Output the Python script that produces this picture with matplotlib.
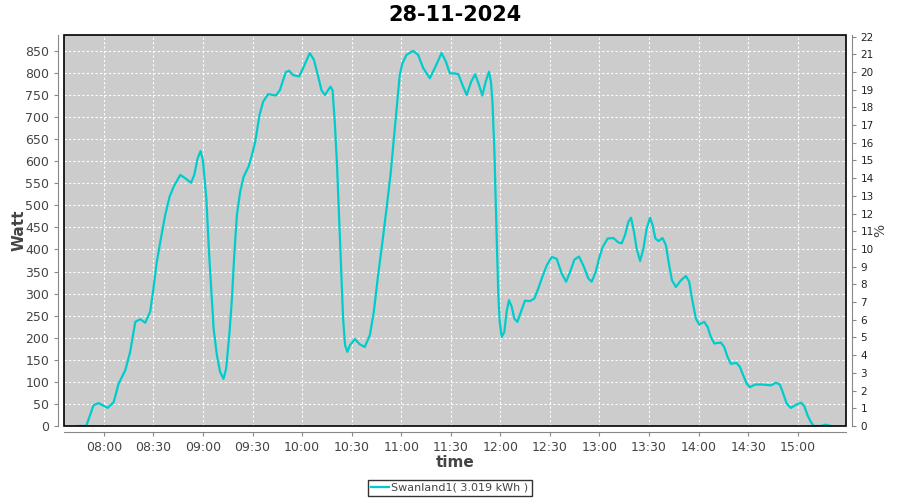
import matplotlib
matplotlib.use("Agg")
import matplotlib.pyplot as plt
import matplotlib.dates as mdates
from matplotlib.patches import Rectangle
import pandas as pd

title = "28-11-2024"
series_name = "Swanland1( 3.019 kWh )"

times = [
    "07:44:18", "07:49:18", "07:53:42", "07:56:48", "08:02:12", "08:05:54", "08:08:54", "08:12:54",
    "08:15:54", "08:19:00", "08:22:00", "08:25:00", "08:28:00", "08:30:00", "08:32:00", "08:34:30",
    "08:37:06", "08:39:48", "08:42:12", "08:46:12", "08:49:48", "08:52:42", "08:54:42", "08:56:42",
    "08:58:30", "08:59:54", "09:02:00", "09:03:36", "09:04:48", "09:06:24", "09:08:24", "09:10:24",
    "09:12:24", "09:14:00", "09:15:54", "09:17:30", "09:18:54", "09:20:30", "09:22:30", "09:24:36",
    "09:27:36", "09:29:36", "09:31:36", "09:34:12", "09:36:24", "09:39:24", "09:44:06", "09:46:30",
    "09:50:06", "09:52:06", "09:54:30", "09:58:12", "10:00:36", "10:04:36", "10:07:06", "10:09:42",
    "10:11:42", "10:13:42", "10:15:42", "10:17:12", "10:18:24", "10:19:48", "10:21:12", "10:22:24",
    "10:23:48", "10:24:48", "10:26:00", "10:27:24", "10:28:54", "10:31:54", "10:34:54", "10:37:54",
    "10:41:00", "10:43:24", "10:46:00", "10:48:36", "10:51:06", "10:53:30", "10:55:42", "10:57:30",
    "10:59:06", "11:00:42", "11:03:12", "11:07:12", "11:10:12", "11:13:18", "11:17:18", "11:20:18",
    "11:24:24", "11:27:00", "11:29:24", "11:32:24", "11:34:36", "11:36:36", "11:39:36", "11:42:18",
    "11:44:42", "11:46:42", "11:49:06", "11:51:06", "11:53:06", "11:54:18", "11:55:12", "11:56:24",
    "11:57:12", "11:58:00", "11:58:48", "11:59:36", "12:00:48", "12:02:24", "12:03:48", "12:05:12",
    "12:06:54", "12:08:30", "12:10:18", "12:12:30", "12:14:54", "12:18:00", "12:20:36", "12:23:00",
    "12:25:24", "12:28:06", "12:31:06", "12:34:06", "12:37:06", "12:39:48", "12:42:12", "12:44:48",
    "12:47:36", "12:50:12", "12:53:18", "12:55:18", "12:57:42", "12:59:42", "13:02:00", "13:05:00",
    "13:08:24", "13:11:24", "13:13:30", "13:15:30", "13:17:30", "13:19:06", "13:20:54", "13:22:30",
    "13:24:36", "13:26:36", "13:28:36", "13:30:36", "13:32:12", "13:33:48", "13:35:48", "13:38:12",
    "13:40:12", "13:42:12", "13:43:54", "13:46:18", "13:49:18", "13:52:18", "13:54:18", "13:56:24",
    "13:58:24", "14:00:24", "14:03:24", "14:05:24", "14:07:24", "14:09:30", "14:13:30", "14:15:30",
    "14:17:30", "14:19:30", "14:23:00", "14:25:00", "14:27:00", "14:29:06", "14:31:06", "14:34:18",
    "14:38:42", "14:43:48", "14:46:48", "14:49:12", "14:51:18", "14:53:18", "14:55:54", "14:58:54",
    "15:02:00", "15:04:00", "15:06:00", "15:08:00", "15:09:42", "15:14:06", "15:16:48", "15:20:18",
]
watts = [
    0, 0, 47, 52, 41, 54, 96, 126,
    168, 236, 242, 234, 259, 312, 372, 425,
    478, 520, 542, 569, 560, 551, 569, 606,
    623, 603, 516, 395, 319, 221, 160, 122,
    107, 130, 206, 289, 387, 478, 531, 565,
    588, 614, 644, 705, 735, 752, 749, 761,
    802, 805, 795, 792, 811, 845, 830, 792,
    761, 750, 761, 769, 761, 686, 584, 470,
    334, 243, 183, 168, 183, 197, 185, 179,
    206, 259, 342, 417, 493, 569, 659, 735,
    796, 822, 841, 850, 841, 811, 788, 811,
    845, 826, 799, 799, 797, 777, 750, 780,
    797, 777, 749, 780, 803, 780, 735, 622,
    508, 395, 296, 236, 202, 213, 259, 285,
    270, 243, 236, 259, 284, 283, 289, 312,
    338, 364, 383, 379, 346, 327, 349, 377,
    384, 364, 334, 327, 349, 379, 406, 425,
    426, 416, 414, 433, 463, 472, 440, 402,
    374, 402, 448, 472, 455, 425, 419, 426,
    410, 364, 330, 315, 330, 340, 327, 281,
    243, 230, 236, 225, 202, 187, 189, 179,
    157, 141, 143, 134, 115, 96, 88, 94,
    94, 92, 98, 94, 73, 51, 41, 48,
    53, 45, 24, 9, 0, 0, 3, 0,
]
watt_ticks = list(range(0, 851, 50))
pct_ticks = list(range(0, 23))

day = "2024-11-28 "
t = pd.to_datetime([day + s for s in times])

fig = plt.figure(figsize=(9, 5), dpi=100)
ax = fig.add_axes([64 / 900, 74 / 500, 782 / 900, 391 / 500])
ax.set_facecolor("#cccccc")

ax.plot(t, watts, color="#00cccc", linewidth=1.6, label=series_name)

ax.set_xlim(pd.Timestamp(day + "07:35:50"), pd.Timestamp(day + "15:29:15"))
ax.set_ylim(0, 886)
ax.set_yticks(watt_ticks)
ax.xaxis.set_major_locator(mdates.MinuteLocator(byminute=[0, 30]))
ax.xaxis.set_major_formatter(mdates.DateFormatter("%H:%M"))

ax.grid(True, color="white", linestyle=(0, (2, 2)), linewidth=0.8)

gray = "#888888"
txt = "#444444"
for side in ["left", "bottom", "right", "top"]:
    ax.spines[side].set_visible(False)
for side in ["left", "bottom"]:
    ax.spines[side].set_visible(True)
    ax.spines[side].set_position(("outward", 4))
    ax.spines[side].set_color(gray)
ax.tick_params(axis="both", colors=gray, labelcolor=txt, labelsize=9, length=3)
ax.add_patch(Rectangle((0, 0), 1, 1, transform=ax.transAxes, fill=False,
                       edgecolor="black", linewidth=1.2, zorder=5, clip_on=False))

ax.set_ylabel("Watt", fontsize=11, fontweight="bold", color=txt)
ax.yaxis.set_label_coords(-0.048, 0.5)
ax.set_xlabel("time", fontsize=11, fontweight="bold", color=txt, labelpad=1)
ax.set_title(title, fontsize=15, fontweight="bold", pad=10)

ax2 = ax.twinx()
ax2.set_ylim(0, 22.09)
ax2.set_yticks(pct_ticks)
for side in ["left", "bottom", "top"]:
    ax2.spines[side].set_visible(False)
ax2.spines["right"].set_position(("outward", 4))
ax2.spines["right"].set_color(gray)
ax2.tick_params(axis="y", colors=gray, labelcolor="#222222", labelsize=7.5, length=3)
ax2.set_ylabel("%", fontsize=10, color=txt)
ax2.yaxis.set_label_coords(1.035, 0.5)

leg = fig.legend(loc="center", bbox_to_anchor=(0.5, 12 / 500), frameon=True,
                 fancybox=False, fontsize=8, handlelength=1.6, borderpad=0.3,
                 handletextpad=0.2, borderaxespad=0)
leg.get_frame().set_edgecolor("black")
leg.get_frame().set_linewidth(1.0)
for text in leg.get_texts():
    text.set_color(txt)

fig.savefig("out.png", dpi=100)
